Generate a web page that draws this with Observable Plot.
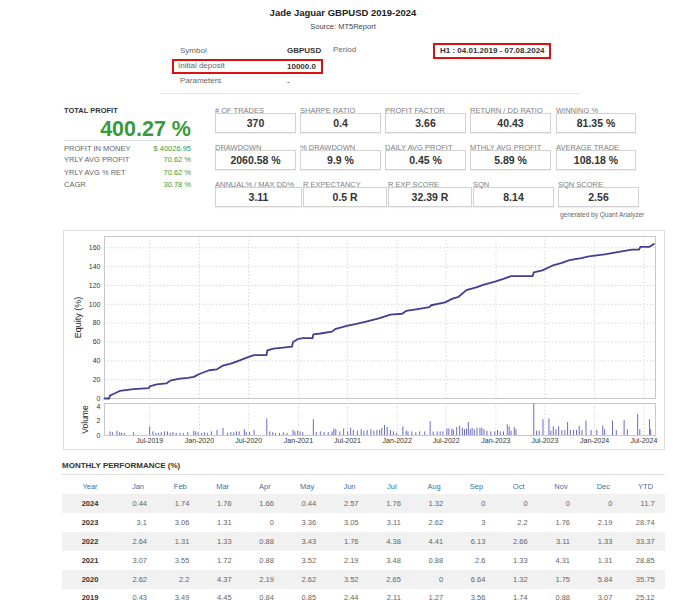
<!DOCTYPE html>
<html><head><meta charset="utf-8">
<script src="https://cdn.jsdelivr.net/npm/d3@7"></script>
<script src="https://cdn.jsdelivr.net/npm/@observablehq/plot@0.6"></script>
<style>
body{margin:0;background:#fff;font-family:"Liberation Sans",Arial,sans-serif;}
#page{position:relative;width:686px;height:600px;overflow:hidden;background:#fff;}
.a{position:absolute;white-space:nowrap;}
.box{position:absolute;border:1px solid #d2d2d2;box-sizing:border-box;background:#fff;box-shadow:0 1px 1px rgba(0,0,0,0.06);}
</style></head><body><div id="page"></div>
<script>
// ---------- DATA ----------
const title = "Jade Jaguar GBPUSD 2019-2024";
const subtitle = "Source: MT5Report";
const infoLabels = ["Symbol", "Initial deposit", "Parameters"];
const infoValues = ["GBPUSD", "10000.0", "-"];
const periodLabel = "Period";
const periodValue = "H1 : 04.01.2019 - 07.08.2024";

const totalProfit = "400.27 %";
const profitLabels = ["PROFIT IN MONEY", "YRLY AVG PROFIT", "YRLY AVG % RET", "CAGR"];
const profitValues = ["$ 40026.95", "70.62 %", "70.62 %", "30.78 %"];

const statLabels1 = ["# OF TRADES", "SHARPE RATIO", "PROFIT FACTOR", "RETURN / DD RATIO", "WINNING %"];
const statValues1 = ["370", "0.4", "3.66", "40.43", "81.35 %"];
const statLabels2 = ["DRAWDOWN", "% DRAWDOWN", "DAILY AVG PROFIT", "MTHLY AVG PROFIT", "AVERAGE TRADE"];
const statValues2 = ["2060.58 %", "9.9 %", "0.45 %", "5.89 %", "108.18 %"];
const statLabels3 = ["ANNUAL% / MAX DD%", "R EXPECTANCY", "R EXP SCORE", "SQN", "SQN SCORE"];
const statValues3 = ["3.11", "0.5 R", "32.39 R", "8.14", "2.56"];

const eqDates = ["2019-01-15","2019-02-01","2019-02-04","2019-02-19","2019-03-12","2019-04-03","2019-05-02","2019-06-28","2019-07-01","2019-07-27","2019-09-01","2019-09-15","2019-10-21","2019-11-19","2019-12-11","2020-01-01","2020-02-06","2020-03-06","2020-03-28","2020-04-26","2020-05-24","2020-06-29","2020-07-21","2020-09-05","2020-09-08","2020-10-01","2020-11-06","2020-12-08","2020-12-12","2020-12-29","2021-01-17","2021-02-22","2021-02-25","2021-03-23","2021-05-05","2021-05-19","2021-06-29","2021-07-30","2021-09-12","2021-10-25","2021-12-07","2022-01-19","2022-02-03","2022-03-18","2022-04-30","2022-05-07","2022-06-27","2022-07-25","2022-08-16","2022-09-14","2022-10-20","2022-11-18","2022-12-28","2023-01-29","2023-02-26","2023-05-17","2023-05-21","2023-06-22","2023-07-28","2023-09-02","2023-09-30","2023-11-13","2023-12-11","2024-02-07","2024-04-05","2024-05-18","2024-06-13","2024-06-18","2024-07-22","2024-08-07"];
const eqValues = [0,0,3,5,8,9,10,11,13,15,16,19,21,22,23,26,30,31,35,37,40,44,46,46,51,53,54,55,60,63,64,64,68,69,71,74,77,79,82,85,89,90,93,95,97,99,102,106,108,115,118,121,124,127,130,130,134,136,141,144,147,149,151,153,156,158,158,161,161,164];

const volDates = ["2019-02-04","2019-02-13","2019-03-02","2019-03-12","2019-03-19","2019-03-29","2019-05-02","2019-07-01","2019-07-13","2019-07-24","2019-08-03","2019-08-13","2019-08-25","2019-09-05","2019-09-15","2019-09-25","2019-10-07","2019-10-21","2019-11-02","2019-11-19","2019-12-11","2019-12-18","2019-12-27","2020-01-09","2020-01-19","2020-01-30","2020-02-14","2020-03-06","2020-03-28","2020-04-14","2020-04-26","2020-05-07","2020-05-17","2020-05-27","2020-06-15","2020-06-22","2020-07-04","2020-07-21","2020-09-06","2020-09-17","2020-09-28","2020-10-08","2020-10-23","2020-11-06","2020-11-20","2020-12-12","2020-12-19","2020-12-29","2021-01-07","2021-01-17","2021-02-25","2021-03-08","2021-03-23","2021-04-06","2021-04-21","2021-05-05","2021-05-12","2021-05-19","2021-06-03","2021-06-17","2021-07-02","2021-07-13","2021-07-23","2021-08-07","2021-08-21","2021-08-31","2021-09-12","2021-09-26","2021-10-07","2021-10-18","2021-10-28","2021-11-05","2021-11-15","2021-11-25","2021-12-07","2021-12-18","2021-12-29","2022-01-22","2022-02-03","2022-02-10","2022-02-24","2022-03-11","2022-03-25","2022-04-13","2022-05-03","2022-05-14","2022-05-29","2022-06-09","2022-06-19","2022-07-04","2022-07-11","2022-07-22","2022-07-28","2022-08-09","2022-08-20","2022-08-30","2022-09-07","2022-09-14","2022-09-21","2022-09-28","2022-10-05","2022-10-13","2022-10-23","2022-11-03","2022-11-10","2022-11-18","2022-11-29","2022-12-13","2022-12-28","2023-01-07","2023-01-17","2023-01-29","2023-02-12","2023-02-19","2023-02-26","2023-03-10","2023-03-16","2023-05-21","2023-05-31","2023-06-10","2023-06-24","2023-07-16","2023-07-23","2023-08-01","2023-08-11","2023-08-21","2023-09-02","2023-09-13","2023-09-23","2023-10-03","2023-10-15","2023-10-26","2023-11-05","2023-11-15","2023-11-30","2023-12-19","2024-01-09","2024-01-31","2024-02-07","2024-03-07","2024-03-21","2024-04-19","2024-05-01","2024-06-08","2024-06-16","2024-07-22","2024-07-26"];
const volValues = [0.5,0.4,0.6,0.4,0.3,0.3,0.4,1.2,0.5,0.3,0.3,0.4,0.5,0.5,0.3,0.4,0.3,0.3,0.3,0.4,0.6,0.5,0.4,0.3,0.4,0.3,0.5,0.7,1.0,0.3,0.4,0.4,0.5,0.5,0.8,0.4,0.4,0.7,2.3,0.5,0.4,0.3,0.3,0.4,0.3,0.7,0.5,0.6,0.5,0.4,2.2,0.4,0.5,0.4,0.4,0.5,0.9,0.8,0.5,0.9,0.5,1.0,0.7,0.6,0.8,0.6,0.7,0.8,0.6,0.7,0.7,1.0,1.4,1.1,0.7,0.5,0.3,1.2,0.6,0.5,0.5,0.4,0.5,0.5,1.9,0.5,0.5,0.5,0.5,0.9,0.9,0.9,0.7,1.1,1.3,1.0,0.8,0.9,1.8,0.8,1.0,0.8,1.0,1.0,1.0,0.8,0.6,0.5,0.5,0.7,0.5,0.5,1.5,1.2,0.6,1.1,0.8,4.4,0.6,0.6,2.2,2.3,0.6,1.2,0.8,1.2,0.7,0.7,1.8,0.7,0.7,0.7,1.3,0.7,2.0,0.7,0.7,1.3,0.8,2.0,0.7,2.1,0.8,2.9,0.8,2.2,0.8];

const xDomain = ["2019-01-15", "2024-08-13"];
const xTickLabels = ["2019-07-01","2020-01-01","2020-07-01","2021-01-01","2021-07-01","2022-01-01","2022-07-01","2023-01-01","2023-07-01","2024-01-01","2024-07-01"];
const eqTicks = [0,20,40,60,80,100,120,140,160];
const volTicks = [0,2,4];

const tableTitle = "MONTHLY PERFORMANCE (%)";
const tableHeader = ["Year","Jan","Feb","Mar","Apr","May","Jun","Jul","Aug","Sep","Oct","Nov","Dec","YTD"];
const years = ["2024","2023","2022","2021","2020","2019"];
const m2024 = [0.44,1.74,1.76,1.66,0.44,2.57,1.76,1.32,0,0,0,0,11.7];
const m2023 = [3.1,3.06,1.31,0,3.36,3.05,3.11,2.62,3,2.2,1.76,2.19,28.74];
const m2022 = [2.64,1.31,1.33,0.88,3.43,1.76,4.38,4.41,6.13,2.66,3.11,1.33,33.37];
const m2021 = [3.07,3.55,1.72,0.88,3.52,2.19,3.48,0.88,2.6,1.33,4.31,1.31,28.85];
const m2020 = [2.62,2.2,4.37,2.19,2.62,3.52,2.65,0,6.64,1.32,1.75,5.84,35.75];
const m2019 = [0.43,3.49,4.45,0.84,0.85,2.44,2.11,1.27,3.56,1.74,0.88,3.07,25.12];
const monthly = [m2024,m2023,m2022,m2021,m2020,m2019];

// ---------- HELPERS ----------
const page = document.getElementById("page");
function txt(s, x, y, o = {}) {
  const d = document.createElement("div");
  d.className = "a";
  d.textContent = s;
  const size = o.size || 8;
  const H = Math.round(size * 2);
  d.style.fontSize = size + "px";
  d.style.lineHeight = H + "px";
  d.style.height = H + "px";
  d.style.top = (y - H / 2) + "px";
  d.style.color = o.color || "#555";
  d.style.fontWeight = o.weight || "normal";
  const anchor = o.anchor || "left";
  if (anchor === "left") d.style.left = x + "px";
  else if (anchor === "right") d.style.right = (686 - x) + "px";
  else { d.style.left = x + "px"; d.style.transform = "translateX(-50%)"; }
  page.appendChild(d);
  return d;
}
function rect(x, y, w, h, style) {
  const d = document.createElement("div");
  d.className = "a";
  d.style.left = x + "px"; d.style.top = y + "px";
  d.style.width = w + "px"; d.style.height = h + "px";
  d.style.boxSizing = "border-box";
  Object.assign(d.style, style);
  page.appendChild(d);
  return d;
}

// ---------- HEADER ----------
txt(title, 343, 12, {size: 9.5, weight: "bold", anchor: "center", color: "#222"});
txt(subtitle, 343, 26, {size: 7.5, anchor: "center", color: "#444"});

rect(172, 59, 151, 15, {border: "2px solid #e01010"});
rect(433, 43, 118, 16, {border: "2px solid #e01010"});
const infoY = [51, 66, 81];
infoLabels.forEach((l, i) => txt(l, i === 1 ? 178 : 180, infoY[i], {size: 8, color: "#666"}));
infoValues.forEach((v, i) => txt(v, 287, infoY[i] + (i ? 1 : 0), {size: 8, weight: i < 2 ? "bold" : "normal", color: "#333"}));
txt(periodLabel, 333, 50, {size: 8, color: "#666"});
txt(periodValue, 440, 51, {size: 8, weight: "bold", color: "#333"});
rect(160, 93, 420, 1, {background: "#e6e6e6"});

// ---------- STATS ----------
txt("TOTAL PROFIT", 64, 110, {size: 7.5, weight: "bold", color: "#333"});
txt(totalProfit, 191, 129, {size: 21.5, weight: "bold", color: "#3a9a3a", anchor: "right"});
rect(64, 140, 127, 1, {background: "#ddd"});
const pY = [148, 159, 172, 184];
profitLabels.forEach((l, i) => txt(l, 64, pY[i], {size: 7.5, color: "#666"}));
profitValues.forEach((v, i) => txt(v, 191, pY[i], {size: 7.5, color: "#3a9a3a", anchor: "right"}));

const statRows = [
  {labels: statLabels1, values: statValues1, ly: 110, top: 113, h: 20, xs: [[215,296],[300,381],[385,466],[470,551],[556,636]]},
  {labels: statLabels2, values: statValues2, ly: 147, top: 150, h: 20, xs: [[215,296],[300,381],[385,466],[470,551],[556,636]]},
  {labels: statLabels3, values: statValues3, ly: 184, top: 187, h: 20, xs: [[215,302],[303,387],[388,472],[473,554],[558,639]]}
];
statRows.forEach(r => {
  r.labels.forEach((l, i) => {
    const [x0, x1] = r.xs[i];
    const b = document.createElement("div");
    b.className = "box";
    b.style.left = x0 + "px"; b.style.top = r.top + "px";
    b.style.width = (x1 - x0) + "px"; b.style.height = r.h + "px";
    page.appendChild(b);
    txt(l, x0, r.ly, {size: 7.5, color: "#808080"});
    txt(r.values[i], (x0 + x1) / 2, r.top + r.h / 2, {size: 10.5, weight: "bold", color: "#333", anchor: "center"});
  });
});
txt("generated by Quant Analyzer", 560, 214, {size: 6.5, color: "#666"});

// ---------- CHART ----------
rect(63, 230, 602, 220, {border: "1px solid #dcdcdc"});

const equity = eqDates.map((d, i) => ({date: new Date(d), value: eqValues[i]}));
const volume = volDates.map((d, i) => ({date: new Date(d), v: volValues[i]}));
const dom = xDomain.map(d => new Date(d));
const xt = xTickLabels.map(d => new Date(d));
const fmt = d3.utcFormat("%b-%Y");
const font = "'Liberation Sans', Arial, sans-serif";

const eqPlot = Plot.plot({
  width: 601, height: 172,
  marginLeft: 41, marginRight: 9, marginTop: 6, marginBottom: 4,
  style: {fontFamily: font, fontSize: "7px", color: "#333", background: "transparent", overflow: "visible"},
  x: {type: "utc", domain: dom, axis: null},
  y: {domain: [0, 172], axis: null},
  marks: [
    Plot.ruleY(eqTicks, {stroke: "#d8d8d8", strokeDasharray: "1.5,2"}),
    Plot.ruleX(xt, {stroke: "#d8d8d8", strokeDasharray: "1.5,2"}),
    Plot.frame({stroke: "#c8c8c8"}),
    Plot.axisY({ticks: eqTicks, tickFormat: d3.format("d"), tickSize: 0, tickPadding: 4, label: null}),
    Plot.line(equity, {x: "date", y: "value", stroke: "#40408f", strokeWidth: 1.8}),
    Plot.text(["Equity (%)"], {frameAnchor: "left", rotate: -90, dx: -26, textAnchor: "middle", fontSize: 9, fill: "#222"})
  ]
});
eqPlot.style.position = "absolute";
eqPlot.style.left = "63px"; eqPlot.style.top = "230px";
page.appendChild(eqPlot);

const volPlot = Plot.plot({
  width: 601, height: 49,
  marginLeft: 41, marginRight: 9, marginTop: 3, marginBottom: 14,
  style: {fontFamily: font, fontSize: "7px", color: "#333", background: "transparent", overflow: "visible"},
  x: {type: "utc", domain: dom, axis: null},
  y: {domain: [0, 4.45], axis: null},
  marks: [
    Plot.ruleX(xt, {stroke: "#d8d8d8", strokeDasharray: "1.5,2"}),
    Plot.frame({stroke: "#c8c8c8"}),
    Plot.ruleX(volume, {x: "date", y1: 0, y2: "v", stroke: "#6a6ac8", strokeWidth: 1}),
    Plot.axisY({ticks: volTicks, tickFormat: d3.format("d"), tickSize: 0, tickPadding: 4, label: null}),
    Plot.axisX({ticks: xt, tickFormat: fmt, tickSize: 0, tickPadding: 3, label: null}),
    Plot.text(["Volume"], {frameAnchor: "left", rotate: -90, dx: -19, textAnchor: "middle", fontSize: 8.5, fill: "#222"})
  ]
});
volPlot.style.position = "absolute";
volPlot.style.left = "63px"; volPlot.style.top = "400px";
page.appendChild(volPlot);

// ---------- TABLE ----------
txt(tableTitle, 62, 466, {size: 8, weight: "bold", color: "#333"});
rect(62, 474, 603, 1, {background: "#dedede"});
const colC = tableHeader.map((h, i) => i === 0 ? 90 : 138 + 42.3 * (i - 1));
tableHeader.forEach((h, i) => txt(h, colC[i], 486, {size: 7.5, color: "#3d6ea8", anchor: "center"}));
const rowY = [503, 522, 541, 560, 579, 597];
years.forEach((y, r) => {
  if (r % 2 === 0) rect(62, rowY[r] - 9.5, 603, 19, {background: "#f1f1f1"});
  txt(y, 90, rowY[r], {size: 7.5, weight: "bold", color: "#333", anchor: "center"});
  monthly[r].forEach((v, j) => txt(String(v), colC[j + 1] + 9, rowY[r], {size: 7.5, color: "#666", anchor: "right"}));
});
</script>
</body></html>
